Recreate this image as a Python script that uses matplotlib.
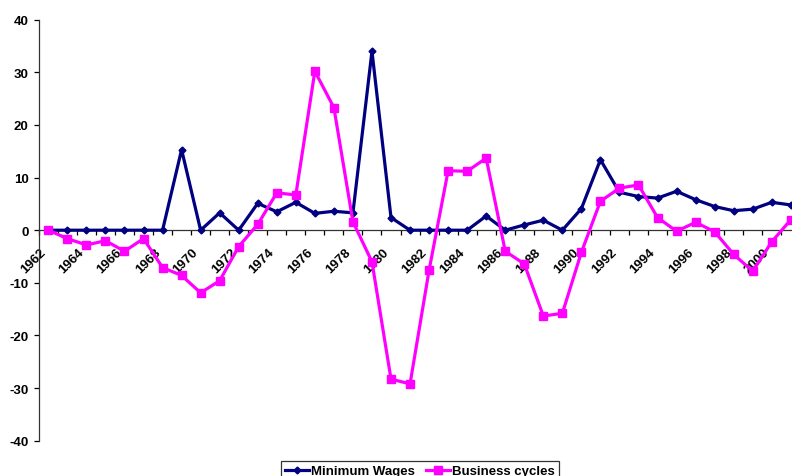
import numpy as np
import matplotlib.pyplot as plt

plt.rcParams['font.family'] = 'Liberation Sans'
plt.rcParams['font.weight'] = 'bold'
plt.rcParams['font.size'] = 9
plt.rcParams['axes.unicode_minus'] = False

years = list(range(1962, 2002))
min_wages = [0, 0, 0, 0, 0, 0, 0, 15.3, 0, 3.3,
             0, 5.1, 3.5, 5.3, 3.2, 3.6, 3.3, 34.0, 2.4, 0,
             0, 0, 0, 2.7, 0, 1.0, 1.9, 0, 4.1, 13.4,
             7.2, 6.4, 6.1, 7.4, 5.8, 4.5, 3.7, 4.0, 5.3, 4.8]
business_cycles = [0, -1.6, -2.8, -2.0, -4.0, -1.6, -7.1, -8.6, -11.9, -9.6,
                   -3.1, 1.1, 7.1, 6.7, 30.2, 23.3, 1.6, -6.0, -28.3, -29.2,
                   -7.6, 11.3, 11.2, 13.7, -4.0, -6.4, -16.3, -15.8, -4.2, 5.5,
                   8.0, 8.6, 2.4, -0.2, 1.5, -0.3, -4.6, -7.8, -2.2, 2.0]
year_labels = [str(y) for y in years[::2]]

fig = plt.figure(figsize=(7.92, 4.77), dpi=100)
ax = fig.add_axes([0.049, 0.074, 0.9615, 0.8826])

x = np.arange(len(years))
ax.plot(x, min_wages, color='#000080', linewidth=2.3, marker='D', markersize=3.5,
        label='Minimum Wages', zorder=3)
ax.plot(x, business_cycles, color='#FF00FF', linewidth=2.3, marker='s', markersize=5.5,
        label='Business cycles', zorder=4)

ax.set_xlim(-0.5, len(years) - 0.5)
ax.set_ylim(-40, 40)
ax.set_yticks(range(-40, 41, 10))

ax.spines['top'].set_visible(False)
ax.spines['right'].set_visible(False)
ax.spines['bottom'].set_position(('data', 0))
for s in ['left', 'bottom']:
    ax.spines[s].set_linewidth(0.9)
    ax.spines[s].set_color('#333333')

# ticks between categories, labels at category centres
ax.set_xticks(np.arange(-0.5, len(years), 1.0))
ax.set_xticklabels([])
ax.set_xticks(x[::2], minor=True)
ax.set_xticklabels(year_labels, minor=True, rotation=45, ha='right', va='top',
                   fontweight='bold', fontsize=9.5)
ax.tick_params(axis='x', which='major', length=3.5, direction='out', width=0.9)
ax.tick_params(axis='x', which='minor', length=0, pad=11)
ax.tick_params(axis='y', length=3.5, width=0.9, pad=4, labelsize=9.5)
for lab in ax.get_yticklabels():
    lab.set_fontweight('bold')

leg = fig.legend(loc='upper center', bbox_to_anchor=(420 / 792, (477 - 462.3) / 477),
                 ncol=2, frameon=True, fancybox=False, edgecolor='black',
                 borderpad=0.3, borderaxespad=0, handlelength=1.8, handletextpad=0.2,
                 columnspacing=0.8, prop={'weight': 'bold', 'size': 9.5})
leg.get_frame().set_linewidth(0.9)

fig.savefig('out.png', dpi=100)
